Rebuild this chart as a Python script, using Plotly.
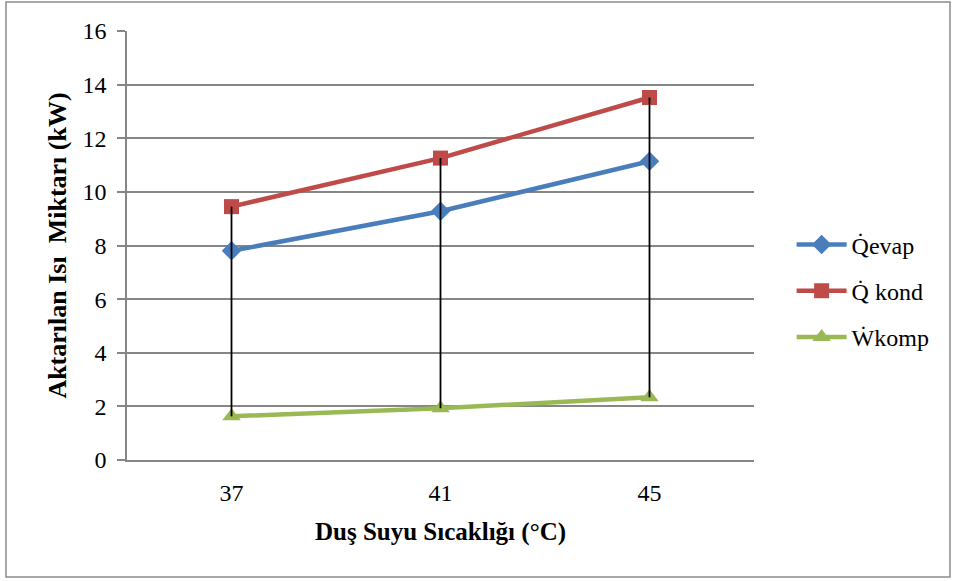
import plotly.graph_objects as go

# Shower water temperature categories (°C)
categories = ["37", "41", "45"]

# Transferred heat / power values (kW)
q_evap = [7.80, 9.28, 11.14]
q_kond = [9.45, 11.26, 13.52]
w_komp = [1.63, 1.93, 2.34]

series_names = ["Q\u0307evap", "Q\u0307 kond", "W\u0307komp"]
colors = ["#4A7EBB", "#BE4B48", "#98B954"]
symbols = ["diamond", "square", "triangle-up"]
marker_sizes = [15, 15, 16]

font_family = "Liberation Serif"

fig = go.Figure()

for name, vals, col, sym, ms in zip(series_names, [q_evap, q_kond, w_komp], colors, symbols, marker_sizes):
    fig.add_trace(go.Scatter(
        x=categories, y=vals, name=name, mode="lines+markers",
        legendgroup=name,
        line=dict(color=col, width=4.5),
        marker=dict(symbol=sym, size=ms, color=col),
    ))

# High-low lines joining the highest and lowest series at each category
hl_x, hl_y = [], []
for i, c in enumerate(categories):
    vals = [q_evap[i], q_kond[i], w_komp[i]]
    hl_x += [c, c, None]
    hl_y += [max(vals), min(vals), None]
fig.add_trace(go.Scatter(
    x=hl_x, y=hl_y, mode="lines", line=dict(color="black", width=1.8),
    showlegend=False, hoverinfo="skip",
))

fig.update_layout(
    width=955, height=581,
    margin=dict(l=127, r=201, t=31, b=121),
    paper_bgcolor="white", plot_bgcolor="white",
    font=dict(family=font_family, size=24, color="black"),
    legend=dict(
        x=1.06, y=0.394, xanchor="left", yanchor="middle",
        font=dict(family=font_family, size=24, color="black"),
        tracegroupgap=12, itemwidth=50, bgcolor="rgba(0,0,0,0)",
    ),
    shapes=[dict(
        type="rect", xref="paper", yref="paper",
        x0=-127 / 627 + 6 / 627, x1=1 + 196 / 627,
        y0=-(121 - 4) / 429, y1=1 + 29 / 429,
        line=dict(color="#8C8C8C", width=1.5), layer="below",
    )],
)

fig.update_xaxes(
    type="category", range=[-0.5, 2.5],
    showline=True, linecolor="#868686", linewidth=1.5,
    showgrid=False, ticks="", zeroline=False,
    ticklabelstandoff=10,
    tickfont=dict(family=font_family, size=24),
    title=dict(text="<b>Duş Suyu Sıcaklığı (°C)</b>", standoff=18,
               font=dict(family=font_family, size=25)),
)

fig.update_yaxes(
    range=[0, 16], dtick=2,
    showline=True, linecolor="#868686", linewidth=1.5,
    showgrid=True, gridcolor="#868686", gridwidth=1.5,
    ticks="outside", ticklen=8, tickcolor="#868686", tickwidth=1.5,
    ticklabelstandoff=6,
    zeroline=False,
    tickfont=dict(family=font_family, size=24),
    title=dict(text="<b>Aktarılan Isı\u00a0\u00a0Miktarı (kW)</b>", standoff=8,
               font=dict(family=font_family, size=26)),
)

fig.write_html("out.html")
